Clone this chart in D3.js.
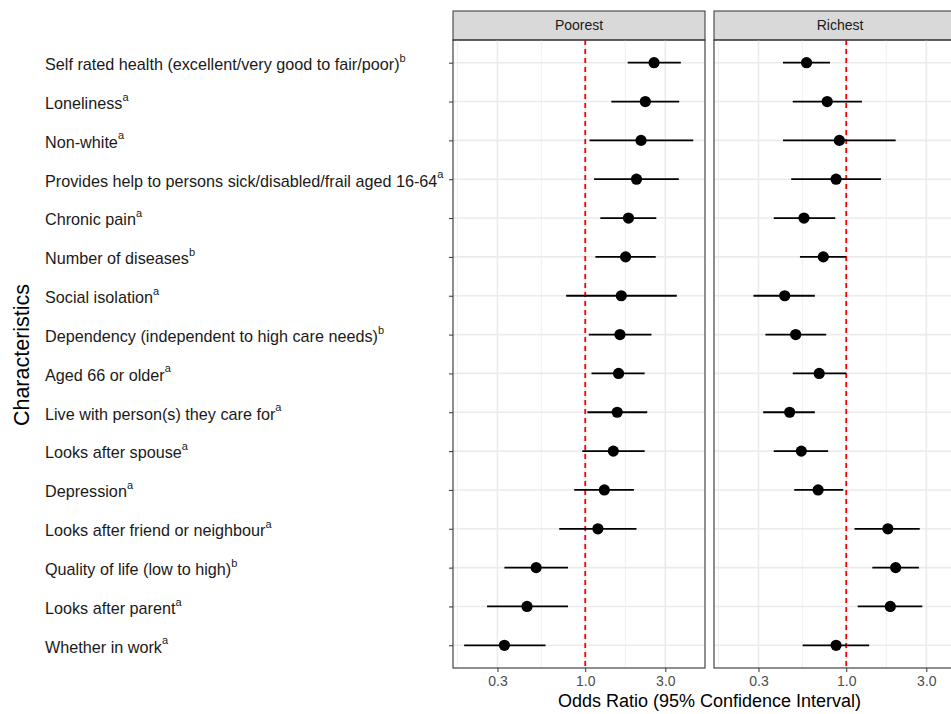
<!DOCTYPE html>
<html>
<head>
<meta charset="utf-8">
<script src="https://cdn.jsdelivr.net/npm/d3@7"></script>
<style>
  body { margin: 0; background: #fff; }
  svg { display: block; font-family: "Liberation Sans", Arial, sans-serif; }
</style>
</head>
<body>
<svg id="chart" width="951" height="714"></svg>
<script>
// characteristics, top to bottom
const labels = [
  "Self rated health (excellent/very good to fair/poor)",
  "Loneliness",
  "Non-white",
  "Provides help to persons sick/disabled/frail aged 16-64",
  "Chronic pain",
  "Number of diseases",
  "Social isolation",
  "Dependency (independent to high care needs)",
  "Aged 66 or older",
  "Live with person(s) they care for",
  "Looks after spouse",
  "Depression",
  "Looks after friend or neighbour",
  "Quality of life (low to high)",
  "Looks after parent",
  "Whether in work"
];
const marks = ["b","a","a","a","a","b","a","b","a","a","a","a","a","b","a","a"];

const panels = ["Poorest", "Richest"];

// odds ratios and 95% CI
const poorOR = [2.57, 2.28, 2.15, 2.02, 1.81, 1.74, 1.64, 1.61, 1.58, 1.55, 1.47, 1.30, 1.19, 0.51, 0.45, 0.33];
const poorLo = [1.79, 1.43, 1.06, 1.13, 1.23, 1.15, 0.77, 1.05, 1.09, 1.03, 0.96, 0.86, 0.70, 0.33, 0.26, 0.19];
const poorHi = [3.71, 3.63, 4.40, 3.61, 2.65, 2.63, 3.51, 2.48, 2.26, 2.34, 2.26, 1.95, 2.02, 0.79, 0.79, 0.58];

const richOR = [0.58, 0.77, 0.91, 0.87, 0.56, 0.73, 0.43, 0.50, 0.69, 0.46, 0.54, 0.68, 1.77, 1.97, 1.83, 0.87];
const richLo = [0.42, 0.48, 0.42, 0.47, 0.37, 0.53, 0.28, 0.33, 0.48, 0.32, 0.37, 0.49, 1.12, 1.43, 1.17, 0.55];
const richHi = [0.80, 1.24, 1.97, 1.61, 0.86, 1.00, 0.65, 0.76, 1.00, 0.65, 0.78, 0.96, 2.74, 2.71, 2.84, 1.37];

const xTicks = [0.3, 1.0, 3.0];

const series = [
  labels.map((l, i) => ({ label: l, or: poorOR[i], lo: poorLo[i], hi: poorHi[i] })),
  labels.map((l, i) => ({ label: l, or: richOR[i], lo: richLo[i], hi: richHi[i] }))
];

const svg = d3.select("#chart");

const panelW = 252, gap = 9;
const panelLeft = [453, 453 + panelW + gap];
const stripTop = 11, stripH = 29, plotTop = 40, plotBottom = 668;

const y = d3.scalePoint().domain(labels).range([62.7, 645.3]);
const x = d3.scaleLog().domain([0.163, 5.17]).range([0, panelW]);

// minor breaks (log midpoints between majors)
const minor = [Math.sqrt(0.1 * 0.3), Math.sqrt(0.3 * 1), Math.sqrt(1 * 3), Math.sqrt(3 * 10)]
  .filter(v => v > x.domain()[0] && v < x.domain()[1]);

panels.forEach((name, p) => {
  const g = svg.append("g").attr("transform", `translate(${panelLeft[p]},0)`);

  // strip
  g.append("rect")
    .attr("x", 0).attr("y", stripTop).attr("width", panelW).attr("height", stripH)
    .attr("fill", "#d9d9d9").attr("stroke", "#333").attr("stroke-width", 1);
  g.append("text")
    .attr("x", panelW / 2).attr("y", stripTop + stripH / 2)
    .attr("dy", "0.35em").attr("text-anchor", "middle")
    .attr("font-size", 14).attr("fill", "#1a1a1a")
    .text(name);

  // grid
  g.selectAll(".minor").data(minor).enter().append("line")
    .attr("x1", d => x(d)).attr("x2", d => x(d))
    .attr("y1", plotTop).attr("y2", plotBottom)
    .attr("stroke", "#f0f0f0").attr("stroke-width", 1);
  g.selectAll(".major").data(xTicks).enter().append("line")
    .attr("x1", d => x(d)).attr("x2", d => x(d))
    .attr("y1", plotTop).attr("y2", plotBottom)
    .attr("stroke", "#ebebeb").attr("stroke-width", 1.6);
  g.selectAll(".hgrid").data(labels).enter().append("line")
    .attr("x1", 0).attr("x2", panelW)
    .attr("y1", d => y(d)).attr("y2", d => y(d))
    .attr("stroke", "#ebebeb").attr("stroke-width", 1.6);

  // reference line at 1
  g.append("line")
    .attr("x1", x(1)).attr("x2", x(1))
    .attr("y1", plotTop).attr("y2", plotBottom)
    .attr("stroke", "#f00").attr("stroke-width", 1.8)
    .attr("stroke-dasharray", "5,4");

  // CIs + points
  g.selectAll(".ci").data(series[p]).enter().append("line")
    .attr("x1", d => x(d.lo)).attr("x2", d => x(d.hi))
    .attr("y1", d => y(d.label)).attr("y2", d => y(d.label))
    .attr("stroke", "#000").attr("stroke-width", 1.8);
  g.selectAll(".pt").data(series[p]).enter().append("circle")
    .attr("cx", d => x(d.or)).attr("cy", d => y(d.label))
    .attr("r", 5.6).attr("fill", "#000");

  // panel border
  g.append("rect")
    .attr("x", 0).attr("y", plotTop).attr("width", panelW).attr("height", plotBottom - plotTop)
    .attr("fill", "none").attr("stroke", "#333").attr("stroke-width", 1.1);

  // x axis
  const ax = g.append("g").attr("transform", `translate(0,${plotBottom})`)
    .call(d3.axisBottom(x).tickValues(xTicks).tickFormat(d3.format(".1f")).tickSize(4).tickPadding(4));
  ax.select(".domain").remove();
  ax.selectAll("line").attr("stroke", "#333");
  ax.selectAll("text").attr("font-size", 14).attr("fill", "#4d4d4d")
    .attr("font-family", "Liberation Sans, Arial, sans-serif");
});

// y axis ticks
const yAx = svg.append("g").attr("transform", `translate(${panelLeft[0]},0)`)
  .call(d3.axisLeft(y).tickSize(4).tickFormat(""));
yAx.select(".domain").remove();
yAx.selectAll("line").attr("stroke", "#333");

// y labels with superscripts
const lab = svg.append("g").selectAll("text").data(labels).enter().append("text")
  .attr("x", 45).attr("y", d => y(d)).attr("dy", "0.45em")
  .attr("font-size", 16.2).attr("fill", "#1a1a1a");
lab.append("tspan").text(d => d);
lab.append("tspan").attr("font-size", 11).attr("dy", "-0.75em").text((d, i) => marks[i]);

// axis titles
svg.append("text")
  .attr("x", panelLeft[0] + panelW + gap / 2).attr("y", 706.5)
  .attr("text-anchor", "middle").attr("font-size", 18).attr("fill", "#000")
  .text("Odds Ratio (95% Confidence Interval)");
svg.append("text")
  .attr("transform", "translate(29,355) rotate(-90)")
  .attr("text-anchor", "middle").attr("font-size", 21.5).attr("fill", "#000")
  .text("Characteristics");
</script>
</body>
</html>
